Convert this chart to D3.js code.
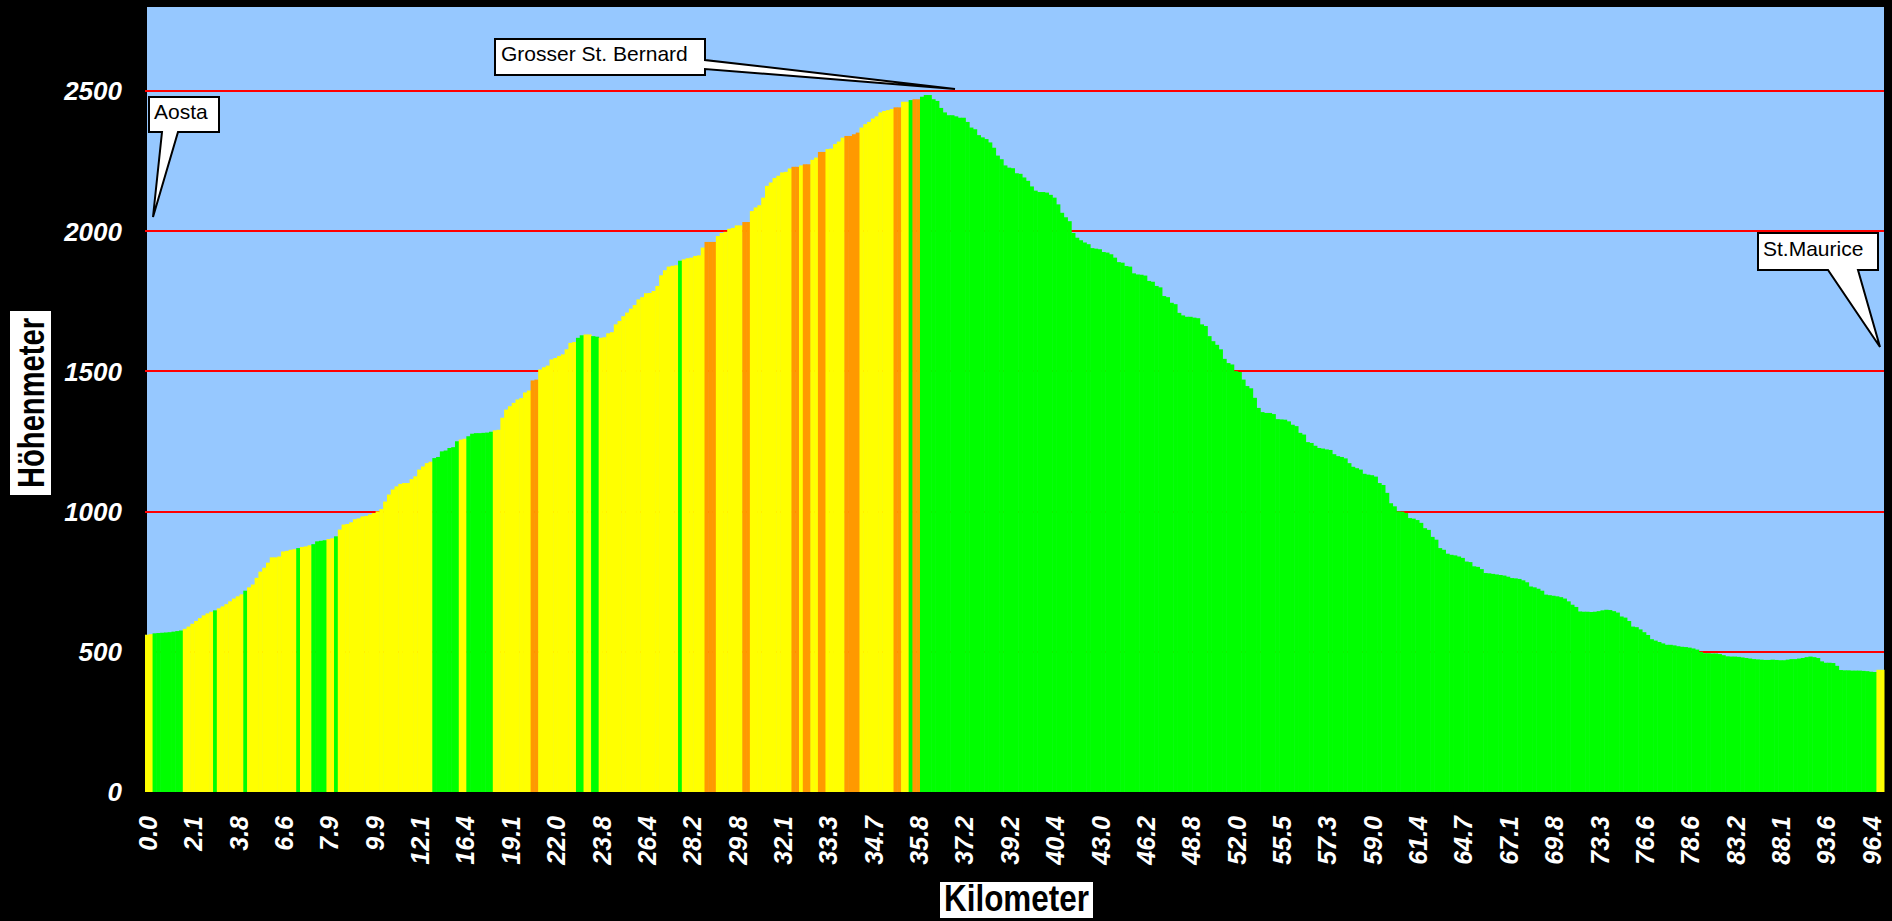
<!DOCTYPE html>
<meta charset="utf-8">
<script src="https://d3js.org/d3.v7.min.js"></script>
<style>
  body { margin: 0; background: #000; }
  svg { display: block; }
  text { font-family: "Liberation Sans", Arial, sans-serif; }
</style>
<div id="chart"></div>
<script>

// size of the page and the plot
var width = 1892, height = 921
var margin = {top: 7, right: 8, bottom: 129, left: 145}

// elevation of every bar in metres (Aosta -> Grosser St. Bernard -> St. Maurice)
var hoehe = [
  561,563,566,567,568,569,570,572,574,576,
  582,590,600,610,620,630,637,643,648,655,
  662,670,680,690,698,705,718,730,740,764,
  786,800,818,837,837,840,858,860,864,866,
  870,874,876,880,884,894,896,898,902,905,
  912,936,954,956,962,973,976,983,985,990,
  995,1001,1009,1036,1061,1079,1090,1099,1102,1102,
  1116,1126,1150,1161,1173,1178,1191,1195,1215,1218,
  1227,1230,1251,1257,1260,1269,1278,1280,1280,1281,
  1282,1285,1290,1292,1335,1364,1376,1388,1400,1405,
  1425,1432,1468,1471,1507,1515,1521,1543,1548,1555,
  1561,1579,1602,1605,1620,1629,1632,1632,1626,1624,
  1620,1622,1636,1640,1668,1680,1697,1710,1724,1737,
  1757,1765,1779,1780,1787,1805,1843,1861,1874,1877,
  1879,1895,1900,1904,1906,1912,1914,1942,1962,1962,
  1962,1983,1994,1998,2009,2012,2021,2021,2033,2033,
  2072,2085,2093,2120,2162,2174,2190,2198,2210,2212,
  2224,2230,2230,2235,2239,2239,2255,2263,2283,2283,
  2293,2295,2311,2320,2334,2340,2340,2346,2352,2370,
  2382,2390,2402,2410,2424,2429,2432,2436,2442,2442,
  2462,2462,2468,2471,2471,2480,2486,2486,
  2471,2465,2440,2424,2414,2414,2410,2405,2405,2390,
  2370,2364,2343,2335,2329,2317,2298,2270,2257,2235,
  2227,2225,2207,2205,2192,2180,2160,2145,2140,2140,
  2138,2130,2120,2096,2066,2050,2036,1994,1977,1968,
  1960,1954,1940,1938,1936,1926,1924,1918,1906,1890,
  1888,1876,1874,1850,1846,1845,1842,1823,1820,1805,
  1800,1769,1765,1745,1740,1709,1700,1695,1695,1692,
  1690,1668,1662,1626,1608,1595,1579,1545,1530,1525,
  1501,1498,1471,1448,1440,1406,1370,1355,1352,1352,
  1348,1330,1329,1328,1322,1310,1305,1281,1275,1248,
  1245,1235,1227,1225,1222,1220,1205,1198,1195,1190,
  1173,1160,1155,1150,1135,1132,1130,1125,1102,1095,
  1067,1030,1019,1001,1000,995,977,975,970,960,
  941,935,910,900,870,864,850,846,844,840,
  835,822,820,805,803,795,781,780,778,776,
  774,772,768,763,762,760,755,748,733,730,
  725,718,704,702,700,698,695,690,680,668,
  660,644,643,643,642,643,645,648,650,649,
  645,640,626,622,610,590,588,580,570,560,
  545,540,535,530,525,525,523,520,518,517,
  515,512,508,500,495,495,494,494,492,488,
  484,483,483,482,480,478,476,474,473,472,
  471,471,472,471,470,470,472,474,474,476,
  478,481,483,481,478,466,461,461,460,450,
  435,434,434,433,433,433,432,431,429,428,
  436,436
]

// gradient class of the bars, as runs [class, number of bars]
// Y = moderate climb, G = flat / descent, O = steep climb
var steigung = [
  ["Y",2],["G",8],["Y",8],["G",1],["Y",7],["G",1],["Y",13],["G",1],["Y",3],["G",4],
  ["Y",2],["G",1],["Y",25],["G",7],["Y",2],["G",7],["Y",10],["O",2],["Y",10],["G",2],
  ["Y",2],["G",2],["Y",21],["G",1],["Y",6],["O",3],["Y",7],["O",2],["Y",11],["O",2],
  ["Y",1],["O",2],["Y",2],["O",2],["Y",5],["O",4],["Y",9],["O",2],["Y",2],["G",1],
  ["O",2],["G",253],["Y",2]
]

// km labels, one every 12 bars
var kmLabels = ["0.0","2.1","3.8","6.6","7.9","9.9","12.1","16.4","19.1","22.0",
  "23.8","26.4","28.2","29.8","32.1","33.3","34.7","35.8","37.2","39.2",
  "40.4","43.0","46.2","48.8","52.0","55.5","57.3","59.0","61.4","64.7",
  "67.1","69.8","73.3","76.6","78.6","83.2","88.1","93.6","96.4"]
var labelStep = 12

var yTicks = [0, 500, 1000, 1500, 2000, 2500]
var yMax = 2800

var farben = {Y: "#ffff00", G: "#00ff00", O: "#ff9900"}

// expand the runs into one class per bar
var klasse = []
steigung.forEach(function(r){
  for (var k = 0; k < r[1]; k++) klasse.push(r[0])
})

var svg = d3.select("#chart").append("svg")
  .attr("width", width)
  .attr("height", height)

svg.append("rect")
  .attr("width", width).attr("height", height)
  .attr("fill", "#000")

var x = d3.scaleBand()
  .domain(d3.range(hoehe.length))
  .range([margin.left, width - margin.right])
  .padding(0)

var y = d3.scaleLinear()
  .domain([0, yMax])
  .range([height - margin.bottom, margin.top])

// plot area
svg.append("rect")
  .attr("x", margin.left + 2)
  .attr("y", margin.top)
  .attr("width", width - margin.right - margin.left - 2)
  .attr("height", y(0) - margin.top)
  .attr("fill", "#96c8ff")

// red grid lines
svg.append("g")
  .selectAll("line")
  .data(yTicks.filter(function(d){ return d > 0 }))
  .enter()
  .append("line")
    .attr("x1", margin.left)
    .attr("x2", width - margin.right)
    .attr("y1", function(d){ return Math.round(y(d)) })
    .attr("y2", function(d){ return Math.round(y(d)) })
    .attr("stroke", "#ff0000")
    .attr("stroke-width", 2)
    .attr("shape-rendering", "crispEdges")

// bars
svg.append("g")
  .selectAll("rect")
  .data(hoehe)
  .enter()
  .append("rect")
    .attr("x", function(d, i){ return x(i) })
    .attr("width", x.bandwidth() + 0.5)
    .attr("y", function(d){ return y(d) })
    .attr("height", function(d){ return y(0) - y(d) })
    .attr("fill", function(d, i){ return farben[klasse[i]] })

// y tick labels
svg.append("g")
  .selectAll("text")
  .data(yTicks)
  .enter()
  .append("text")
    .attr("x", 122)
    .attr("y", function(d){ return y(d) })
    .attr("dy", "0.36em")
    .attr("text-anchor", "end")
    .attr("fill", "#fff")
    .style("font-size", "26px")
    .style("font-weight", "bold")
    .style("font-style", "italic")
    .text(function(d){ return d })

// x tick labels (rotated)
svg.append("g")
  .selectAll("text")
  .data(kmLabels)
  .enter()
  .append("text")
    .attr("transform", function(d, j){
      var cx = x(j * labelStep) + x.bandwidth() / 2 + 1
      return "translate(" + cx + ",816) rotate(-90)"
    })
    .attr("dy", "0.36em")
    .attr("text-anchor", "end")
    .attr("fill", "#fff")
    .style("font-size", "25px")
    .style("font-weight", "bold")
    .style("font-style", "italic")
    .text(function(d){ return d })

// axis titles in white boxes
var xTitle = svg.append("g")
xTitle.append("rect")
  .attr("x", 940).attr("y", 882)
  .attr("width", 153).attr("height", 36)
  .attr("fill", "#fff")
xTitle.append("text")
  .attr("x", 1016.5).attr("y", 911)
  .attr("text-anchor", "middle")
  .attr("textLength", 145)
  .attr("lengthAdjust", "spacingAndGlyphs")
  .style("font-size", "36px")
  .style("font-weight", "bold")
  .text("Kilometer")

var yTitle = svg.append("g")
yTitle.append("rect")
  .attr("x", 10).attr("y", 311)
  .attr("width", 41).attr("height", 184)
  .attr("fill", "#fff")
yTitle.append("text")
  .attr("transform", "translate(44,403) rotate(-90)")
  .attr("text-anchor", "middle")
  .attr("textLength", 170)
  .attr("lengthAdjust", "spacingAndGlyphs")
  .style("font-size", "37px")
  .style("font-weight", "bold")
  .text("Höhenmeter")

// callouts
var callouts = [
  {text: "Aosta", tx: 154, ty: 119,
   path: "M149,97 H219 V132 H178 L153,217 L162,132 H149 Z"},
  {text: "Grosser St. Bernard", tx: 501, ty: 61,
   path: "M495,39 H705 V60 L955,89 L705,69 V75 H495 Z"},
  {text: "St.Maurice", tx: 1763, ty: 256,
   path: "M1758,233 H1878 V270 H1858 L1880,347 L1828,270 H1758 Z"}
]

var co = svg.append("g")
  .selectAll("g")
  .data(callouts)
  .enter()
  .append("g")

co.append("path")
  .attr("d", function(d){ return d.path })
  .attr("fill", "#fff")
  .attr("stroke", "#000")
  .attr("stroke-width", 2)
  .attr("stroke-linejoin", "miter")

co.append("text")
  .attr("x", function(d){ return d.tx })
  .attr("y", function(d){ return d.ty })
  .attr("fill", "#000")
  .style("font-size", "21px")
  .text(function(d){ return d.text })

</script>
